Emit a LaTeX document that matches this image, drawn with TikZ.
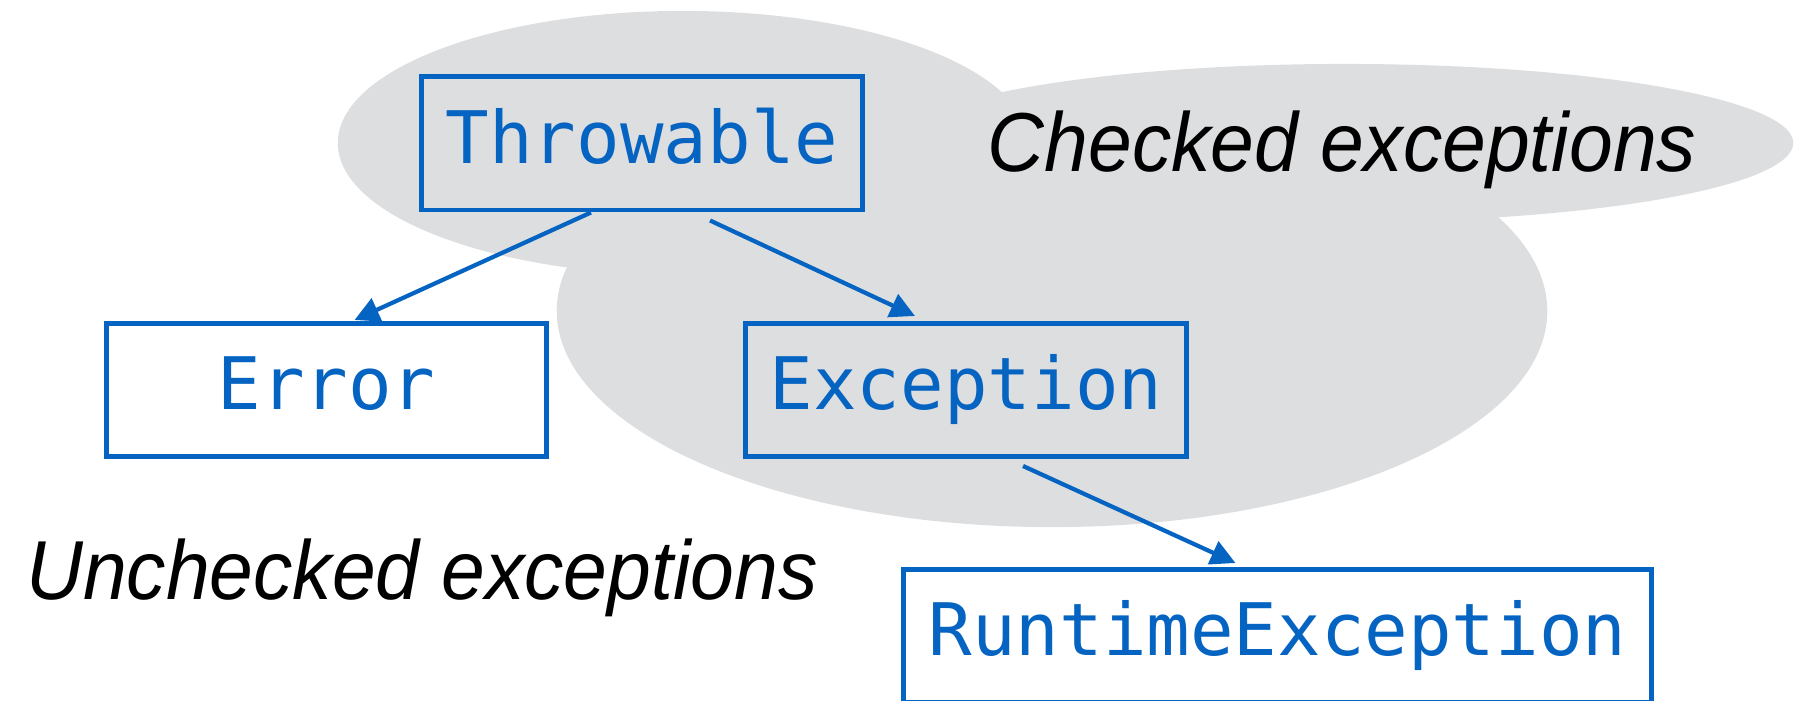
\documentclass[tikz,border=0pt]{standalone}
\usepackage{fontspec}
\usepackage{tikz}
\usetikzlibrary{arrows.meta,calc}
\setmainfont{Liberation Sans}
\newfontfamily\notefont[FakeStretch=0.94]{Liberation Sans}
\newfontfamily\codefont{DejaVu Sans Mono}
\definecolor{javablue}{RGB}{5,99,193}
\definecolor{blobgray}{RGB}{221,222,224}

\begin{document}
\begin{tikzpicture}[x=0.01cm,y=-0.01cm,>={Triangle[length=7pt,width=7pt]},
    blob/.style={fill=blobgray},
    classbox/.style={draw=javablue,line width=1.4pt,text=javablue,inner sep=0pt,
      minimum width=4.4cm,minimum height=1.33cm,text height=0.52cm,text depth=0.13cm,
      font=\codefont\fontsize{20.6}{24}\selectfont},
    gen/.style={->,draw=javablue,line width=1.2pt},
    note/.style={font=\notefont\itshape\fontsize{23.8}{28}\selectfont,anchor=base}]
        \useasboundingbox (0,0) rectangle (1795,701);
        % the checked region
        \fill [blob] (683,143) ellipse [x radius=3.45cm, y radius=1.32cm];
        \fill [blob] (1345,143) ellipse [x radius=4.48cm, y radius=0.79cm];
        \fill [blob] (1052,311) ellipse [x radius=4.95cm, y radius=2.16cm];
        \node [note] (checked) at (1342,172) {Checked exceptions};
        \node [note] (unchecked) at (422,600) {Unchecked exceptions};
        % class tree
        \node [classbox] (Throwable) at (642,143.5) {Throwable};
        \node [classbox] (Error) at (326.5,390) {Error};
        \node [classbox] (Exception) at (966,390) {Exception};
        \node [classbox,minimum width=7.47cm] (Runtime) at (1277.5,636) {RuntimeException};
        \draw [gen] ([xshift=-0.51cm]Throwable.south) -- ([xshift=0.28cm,yshift=0.01cm]Error.north);
        \draw [gen] ([xshift=0.68cm,yshift=-0.08cm]Throwable.south) -- ([xshift=-0.51cm,yshift=0.05cm]Exception.north);
        \draw [gen] ([xshift=0.57cm,yshift=-0.07cm]Exception.south) -- ([xshift=-0.42cm,yshift=0.04cm]Runtime.north);
\end{tikzpicture}
\end{document}
